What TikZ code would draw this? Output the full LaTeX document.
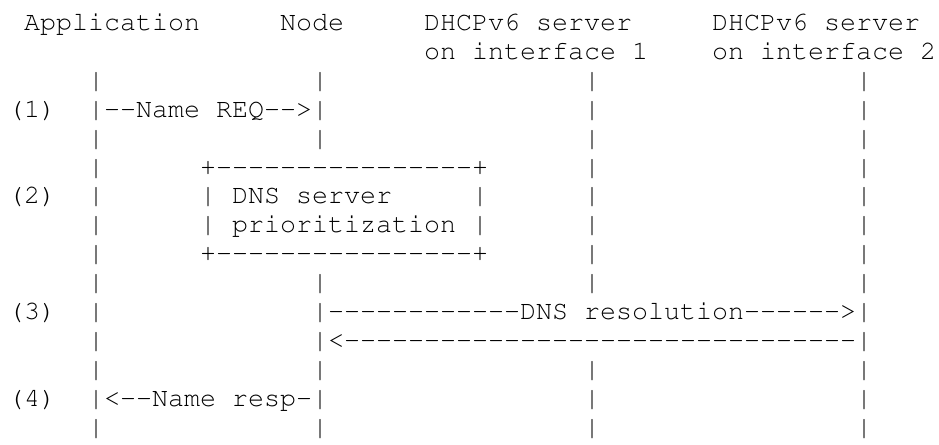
\documentclass[tikz,border=0pt]{standalone}
\usepackage[T1]{fontenc}
\usepackage{courier}
% n hyphens in a row, kept apart (no -- ligature)
\newcommand{\hy}[1]{\foreach \k in {1,...,#1}{-}}
\begin{document}
\begin{tikzpicture}[x=0.75pt,y=0.75pt,yscale=-1,
  asc/.style={font=\ttfamily\fontsize{20}{24}\selectfont,anchor=base west,inner sep=0pt,outer sep=0pt}]
%set diagram: 939 wide, 444 high
\useasboundingbox (0,0) rectangle (939,444);

% Text Node
\node[asc] (appname) at (24,30.5) {Application};
% Text Node
\node[asc] (nodename) at (280,30.5) {Node};
% Text Node
\node[asc] (srvA) at (424,30.5) {DHCPv6 server};
% Text Node
\node[asc] (srvAif) at (424,59.4) {on interface 1};
% Text Node
\node[asc] (srvB) at (712,30.5) {DHCPv6 server};
% Text Node
\node[asc] (srvBif) at (712,59.4) {on interface 2};

%Lifelines
\foreach \r in {2,...,14} \node[asc] (app\r) at (88,30.5+28.9*\r) {|};
\foreach \r in {2,3,4,9,10,11,12,13,14} \node[asc] (nd\r) at (312,30.5+28.9*\r) {|};
\foreach \r in {2,...,9,12,13,14} \node[asc] (sa\r) at (584,30.5+28.9*\r) {|};
\foreach \r in {2,...,14} \node[asc] (sb\r) at (856,30.5+28.9*\r) {|};

% Text Node
\node[asc] (step1) at (8,117.2) {(1)};
% Text Node
\node[asc] (req) at (104,117.2) {\hy{2}Name REQ\hy{2}>};

%Shape: prioritization box
\node[asc] (boxtop) at (200,175.0) {+\hy{16}+};
\node[asc] (step2) at (8,203.9) {(2)};
\node[asc] (boxa) at (200,203.9) {| DNS server};
\node[asc] (boxb) at (472,203.9) {|};
\node[asc] (boxc) at (200,232.8) {| prioritization |};
\node[asc] (boxbot) at (200,261.7) {+\hy{16}+};

% Text Node
\node[asc] (step3) at (8,319.5) {(3)};
% Text Node
\node[asc] (query) at (328,319.5) {\hy{12}DNS resolution\hy{6}>};
% Text Node
\node[asc] (answer) at (328,348.4) {<\hy{32}};

% Text Node
\node[asc] (step4) at (8,406.2) {(4)};
% Text Node
\node[asc] (resp) at (104,406.2) {<\hy{2}Name resp-};

\end{tikzpicture}
\end{document}
